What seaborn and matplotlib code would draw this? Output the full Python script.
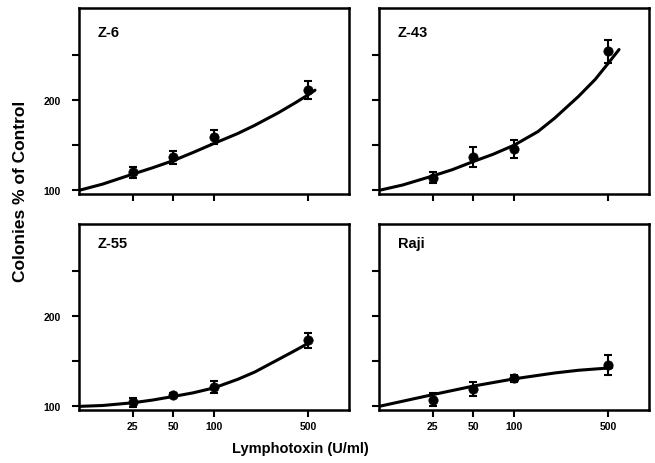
import matplotlib
matplotlib.use("Agg")
import matplotlib.pyplot as plt
import seaborn as sns
import numpy as np

sns.set_theme(style="white")
plt.rcParams["font.family"] = ["Liberation Sans", "DejaVu Sans"]
plt.rcParams["font.weight"] = "bold"
plt.rcParams["text.color"] = "black"
plt.rcParams["axes.labelcolor"] = "black"
plt.rcParams["xtick.color"] = "black"
plt.rcParams["ytick.color"] = "black"

# ---- data ----
doses = [25, 50, 100, 500]
x_ticks = [25, 50, 100, 500]
x_tick_labels = ["25", "50", "100", "500"]
y_ticks = [100, 150, 200, 250]
y_tick_labels = ["100", "", "200", ""]
panel_names = ["Z-6", "Z-43", "Z-55", "Raji"]

z6_mean = [120, 136.5, 159, 211]
z6_err = [6, 7, 8, 10]
z6_curve_x = [10, 15, 25, 35, 50, 70, 100, 150, 200, 300, 400, 500, 560]
z6_curve_y = [100, 107, 118, 125, 133, 142, 152, 163, 172, 186, 197, 206, 211]

z43_mean = [114, 137, 146, 254]
z43_err = [6, 11, 10, 13]
z43_curve_x = [10, 15, 25, 35, 50, 70, 100, 150, 200, 300, 400, 500, 600]
z43_curve_y = [100, 106, 116, 123, 132, 140, 150, 165, 180, 204, 223, 241, 256]

z55_mean = [104.5, 113, 121.5, 173]
z55_err = [5, 2, 7, 8]
z55_curve_x = [10, 15, 25, 35, 50, 70, 100, 150, 200, 300, 400, 500, 530]
z55_curve_y = [100, 101, 104, 107, 111, 115, 120.5, 130, 138, 152, 162, 170, 173]

raji_mean = [107.5, 119.5, 131, 146]
raji_err = [7, 7.5, 4, 11]
raji_curve_x = [10, 25, 50, 100, 200, 300, 500, 530]
raji_curve_y = [100, 113, 122.5, 130.5, 137, 140, 142.5, 143]

means = [z6_mean, z43_mean, z55_mean, raji_mean]
errs = [z6_err, z43_err, z55_err, raji_err]
curves_x = [z6_curve_x, z43_curve_x, z55_curve_x, raji_curve_x]
curves_y = [z6_curve_y, z43_curve_y, z55_curve_y, raji_curve_y]

W, H = 655, 464
fig = plt.figure(figsize=(W / 100, H / 100), dpi=100)

col_left = [79, 379]
col_width = 270
row_top = [9, 225]
row_height = 186
label_y = [0.87, 0.9]

for i, name in enumerate(panel_names):
    r, c = divmod(i, 2)
    ax = fig.add_axes([col_left[c] / W, 1 - (row_top[r] + row_height) / H,
                       col_width / W, row_height / H])
    ax.set_xscale("log")
    sns.lineplot(x=curves_x[i], y=curves_y[i], ax=ax, color="black",
                 lw=2.2, estimator=None, sort=False)
    ax.errorbar(doses, means[i], yerr=errs[i], fmt="none", ecolor="black",
                elinewidth=1.5, capsize=3, capthick=1.5, zorder=4)
    sns.scatterplot(x=doses, y=means[i], ax=ax, color="black", s=45,
                    edgecolor="black", linewidth=0.5, zorder=5)
    ax.set_xlim(10, 1000)
    ax.set_ylim(96, 302)
    ax.set_xticks(x_ticks)
    ax.xaxis.set_minor_locator(matplotlib.ticker.NullLocator())
    if r == 1:
        ax.set_xticklabels(x_tick_labels)
    else:
        ax.set_xticklabels([])
    ax.set_yticks(y_ticks)
    if c == 0:
        ax.set_yticklabels(y_tick_labels)
    else:
        ax.set_yticklabels([])
    ax.tick_params(axis="both", which="major", direction="out", length=5,
                   width=1.5, colors="black", labelsize=7.5,
                   bottom=True, left=True, top=False, right=False)
    ax.tick_params(axis="x", pad=3)
    ax.tick_params(axis="y", pad=8)
    for lab in ax.get_xticklabels() + ax.get_yticklabels():
        lab.set_fontweight("bold")
    for sp in ax.spines.values():
        sp.set_visible(True)
        sp.set_color("black")
        sp.set_linewidth(1.8)
    ax.set_xlabel("")
    ax.set_ylabel("")
    ax.text(0.07, label_y[r], name, transform=ax.transAxes, fontsize=10.5,
            fontweight="bold", va="center", ha="left", color="black")

fig.text(21 / W, 1 - 191 / H, "Colonies % of Control", rotation=90,
         ha="center", va="center", fontsize=12.5, fontweight="bold",
         color="black")
fig.text(300 / W, 1 - 449 / H, "Lymphotoxin (U/ml)", ha="center",
         va="center", fontsize=10.5, fontweight="bold", color="black")

fig.savefig("out.png", dpi=100)
